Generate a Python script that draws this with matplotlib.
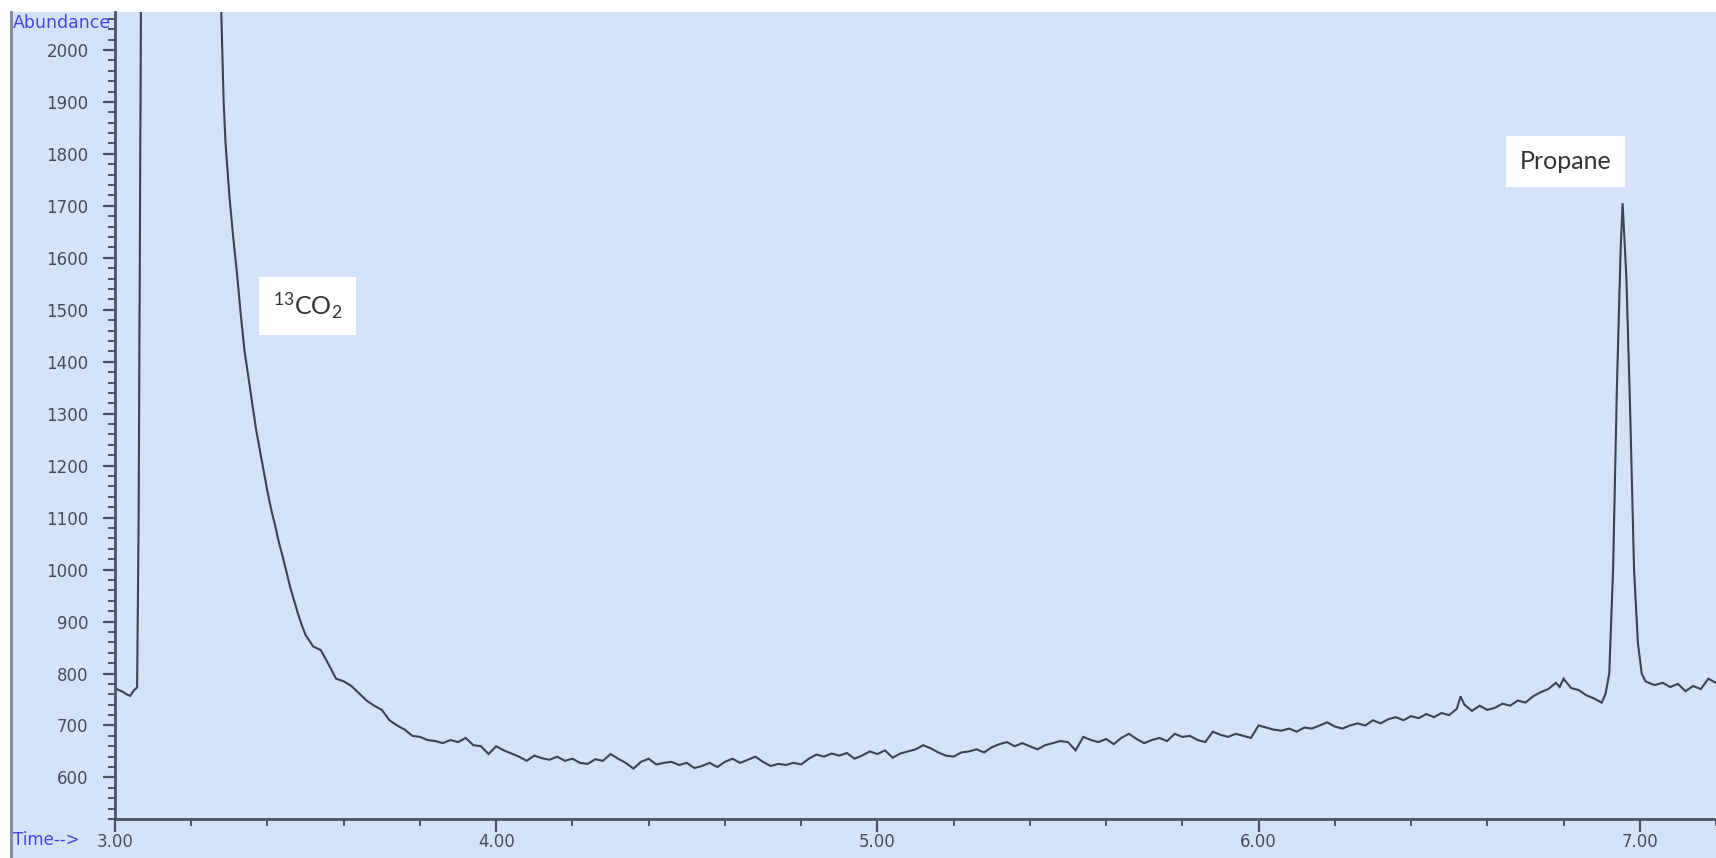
import matplotlib
matplotlib.use("Agg")
import matplotlib.pyplot as plt
from matplotlib.patches import Rectangle
from matplotlib.lines import Line2D
from matplotlib.ticker import MultipleLocator, FormatStrFormatter

# retention time (min) and abundance
time_min = [
    3.000, 3.010, 3.020, 3.030, 3.040, 3.050, 3.058, 3.062, 3.066, 3.070,
    3.170, 3.276, 3.280, 3.285, 3.290, 3.300, 3.310, 3.320, 3.330, 3.340,
    3.350, 3.360, 3.370, 3.380, 3.390, 3.400, 3.410, 3.420, 3.430, 3.440,
    3.450, 3.460, 3.470, 3.480, 3.490, 3.500, 3.52, 3.54, 3.56, 3.58,
    3.60, 3.62, 3.64, 3.66, 3.68, 3.70, 3.72, 3.74, 3.76, 3.78,
    3.80, 3.82, 3.84, 3.86, 3.88, 3.90, 3.92, 3.94, 3.96, 3.98,
    4.00, 4.02, 4.04, 4.06, 4.08, 4.10, 4.12, 4.14, 4.16, 4.18,
    4.20, 4.22, 4.24, 4.26, 4.28, 4.30, 4.32, 4.34, 4.36, 4.38,
    4.40, 4.42, 4.44, 4.46, 4.48, 4.50, 4.52, 4.54, 4.56, 4.58,
    4.60, 4.62, 4.64, 4.66, 4.68, 4.70, 4.72, 4.74, 4.76, 4.78,
    4.80, 4.82, 4.84, 4.86, 4.88, 4.90, 4.92, 4.94, 4.96, 4.98,
    5.00, 5.02, 5.04, 5.06, 5.08, 5.10, 5.12, 5.14, 5.16, 5.18,
    5.20, 5.22, 5.24, 5.26, 5.28, 5.30, 5.32, 5.34, 5.36, 5.38,
    5.40, 5.42, 5.44, 5.46, 5.48, 5.50, 5.52, 5.54, 5.56, 5.58,
    5.60, 5.62, 5.64, 5.66, 5.68, 5.70, 5.72, 5.74, 5.76, 5.78,
    5.80, 5.82, 5.84, 5.86, 5.88, 5.90, 5.92, 5.94, 5.96, 5.98,
    6.00, 6.02, 6.04, 6.06, 6.08, 6.10, 6.12, 6.14, 6.16, 6.18,
    6.20, 6.22, 6.24, 6.26, 6.28, 6.30, 6.32, 6.34, 6.36, 6.38,
    6.40, 6.42, 6.44, 6.46, 6.48, 6.50, 6.52, 6.53, 6.54, 6.56,
    6.58, 6.60, 6.62, 6.64, 6.66, 6.68, 6.70, 6.72, 6.74, 6.76,
    6.78, 6.79, 6.80, 6.82, 6.84, 6.86, 6.88, 6.90, 6.910, 6.920,
    6.930, 6.940, 6.950, 6.955, 6.965, 6.975, 6.985, 6.995, 7.005, 7.015,
    7.03, 7.04, 7.06, 7.08, 7.10, 7.12, 7.14, 7.16, 7.18, 7.20,
]
abundance = [
    772, 768, 765, 760, 757, 768, 773, 1100, 1750, 2400,
    30000, 2150, 2040, 1900, 1820, 1720, 1640, 1570, 1490, 1420,
    1370, 1320, 1270, 1230, 1190, 1150, 1115, 1085, 1052, 1025,
    995, 965, 940, 915, 893, 874, 852, 845, 818, 790,
    785, 776, 762, 748, 738, 730, 710, 700, 692, 680,
    678, 672, 670, 666, 672, 668, 676, 662, 660, 645,
    660, 652, 646, 640, 632, 642, 637, 634, 640, 632,
    636, 628, 626, 635, 632, 645, 636, 628, 617, 630,
    636, 625, 628, 630, 624, 628, 618, 622, 628, 620,
    630, 636, 628, 634, 640, 630, 622, 626, 624, 628,
    625, 636, 644, 640, 646, 642, 647, 636, 642, 650,
    645, 652, 638, 646, 650, 654, 662, 656, 648, 642,
    640, 648, 650, 654, 648, 658, 664, 668, 660, 666,
    660, 654, 662, 666, 670, 668, 652, 678, 672, 668,
    674, 664, 676, 684, 674, 666, 672, 676, 670, 684,
    678, 680, 672, 668, 688, 682, 678, 684, 680, 676,
    700, 696, 692, 690, 694, 688, 696, 694, 700, 706,
    698, 694, 700, 704, 700, 710, 704, 712, 716, 710,
    718, 714, 722, 716, 724, 720, 732, 756, 740, 728,
    738, 730, 734, 742, 738, 748, 744, 756, 764, 770,
    782, 774, 790, 772, 768, 758, 752, 744, 760, 800,
    1000, 1350, 1620, 1705, 1560, 1300, 1000, 860, 800, 785,
    780, 778, 782, 774, 780, 766, 776, 770, 790, 782,
]
x_tick_values = [3.0, 4.0, 5.0, 6.0, 7.0]
peak_labels = ["$\\mathregular{^{13}CO_2}$", "Propane"]
peak_label_pos = [(3.505, 1508), (6.806, 1785)]

W, H = 1716, 858
panel_color = "#d5e3fa"
axis_color = "#4a5464"
blue = "#4646e0"

plt.rcParams["mathtext.fontset"] = "custom"
plt.rcParams["mathtext.rm"] = "Lato"

fig = plt.figure(figsize=(W / 100, H / 100), dpi=100)
fig.patch.set_facecolor("white")
fig.patches.append(Rectangle((11 / W, 0), 1 - 11 / W, 1 - 12 / H,
                             transform=fig.transFigure, facecolor=panel_color,
                             edgecolor="none", zorder=-10))
fig.lines.append(Line2D([11 / W, 11 / W], [0, 1 - 12 / H], transform=fig.transFigure,
                        color="#7b8896", lw=2.0, zorder=-5))

ax = fig.add_axes([115 / W, 39 / H, 1601 / W, 807 / H])
ax.set_facecolor(panel_color)
ax.plot(time_min, abundance, color="#3a4452", lw=1.5, solid_joinstyle="miter")

ax.set_xlim(3.0, 7.2)
ax.set_ylim(520, 2073)

for side in ["top", "right"]:
    ax.spines[side].set_visible(False)
for side in ["left", "bottom"]:
    ax.spines[side].set_color(axis_color)
    ax.spines[side].set_linewidth(2.0)

ax.yaxis.set_major_locator(MultipleLocator(100))
ax.yaxis.set_minor_locator(MultipleLocator(20))
ax.set_xticks(x_tick_values)
ax.xaxis.set_minor_locator(MultipleLocator(0.2))
ax.xaxis.set_major_formatter(FormatStrFormatter("%.2f"))

ax.tick_params(axis="y", which="major", length=9, width=1.6, color=axis_color,
               labelsize=12, labelcolor="#454c58", pad=10)
ax.tick_params(axis="y", which="minor", length=5, width=1.4, color=axis_color)
ax.tick_params(axis="x", which="major", length=9, width=1.6, color=axis_color,
               labelsize=12, labelcolor="#454c58", pad=1)
ax.tick_params(axis="x", which="minor", length=5, width=1.4, color=axis_color)

for label, (tx, ty) in zip(peak_labels, peak_label_pos):
    ax.text(tx, ty, label, fontsize=18, family="Lato", color="#333333",
            ha="center", va="center",
            bbox=dict(boxstyle="square,pad=0.55", facecolor="white", edgecolor="none"))

fig.text(13 / W, 1 - 23 / H, "Abundance", color=blue, fontsize=12.5,
         ha="left", va="center")
fig.text(13 / W, 1 - 840 / H, "Time-->", color=blue, fontsize=12,
         ha="left", va="center")

fig.savefig("out.png", dpi=100, facecolor=fig.get_facecolor())
